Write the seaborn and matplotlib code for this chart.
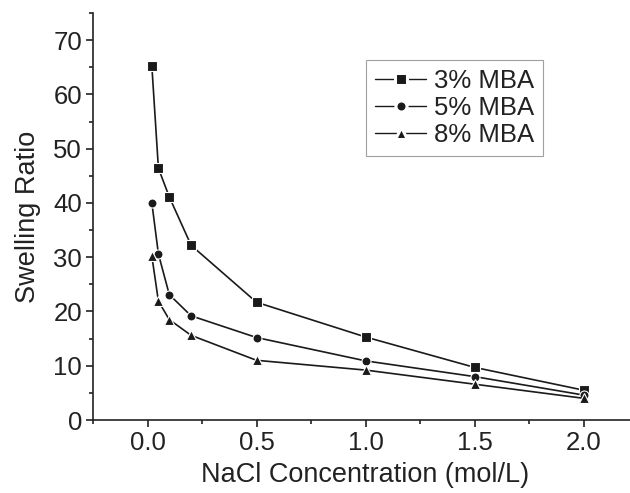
import matplotlib
matplotlib.use("Agg")
import matplotlib.pyplot as plt
from matplotlib.ticker import MultipleLocator
import seaborn as sns
import pandas as pd

conc = [0.02, 0.05, 0.1, 0.2, 0.5, 1.0, 1.5, 2.0]
mba3 = [65.2, 46.4, 41.1, 32.2, 21.7, 15.3, 9.7, 5.5]
mba5 = [40.0, 30.6, 23.1, 19.2, 15.2, 10.9, 8.0, 4.6]
mba8 = [30.2, 21.9, 18.5, 15.6, 11.0, 9.2, 6.6, 4.0]
series_names = ["3% MBA", "5% MBA", "8% MBA"]

df = pd.DataFrame({
    "conc": conc * 3,
    "ratio": mba3 + mba5 + mba8,
    "series": [series_names[0]] * len(conc) + [series_names[1]] * len(conc) + [series_names[2]] * len(conc),
})

sns.set_style("ticks")
plt.rcParams["font.family"] = ["Liberation Sans", "DejaVu Sans"]

fig = plt.figure(figsize=(6.3, 4.93), dpi=100)
ax = fig.add_axes([93 / 630, 1 - 420 / 493, (638 - 93) / 630, (420 - 13) / 493])

sns.lineplot(data=df, x="conc", y="ratio", style="series", markers=["s", "o", "^"],
             dashes=False, color="#1a1a1a", linewidth=1.2, markersize=6.5,
             markeredgecolor="white", markeredgewidth=0.8, ax=ax, legend=True)

ax.set_xlim(-0.25, 2.25)
ax.set_ylim(0, 75)
ax.xaxis.set_major_locator(MultipleLocator(0.5))
ax.xaxis.set_minor_locator(MultipleLocator(0.25))
ax.yaxis.set_major_locator(MultipleLocator(10))
ax.yaxis.set_minor_locator(MultipleLocator(5))
ax.xaxis.set_major_formatter(matplotlib.ticker.FormatStrFormatter("%.1f"))
ax.tick_params(which="major", direction="out", length=5, width=1.2, color="#222222",
               labelsize=18.5, labelcolor="#222222", pad=3)
ax.tick_params(which="minor", direction="out", length=3, width=1.2, color="#222222")
for s in ["top", "right"]:
    ax.spines[s].set_visible(False)
for s in ["left", "bottom"]:
    ax.spines[s].set_linewidth(1.2)
    ax.spines[s].set_color("#222222")

ax.set_xlabel("NaCl Concentration (mol/L)", fontsize=19.5, color="#222222", labelpad=5)
ax.set_ylabel("Swelling Ratio", fontsize=19.5, color="#222222", labelpad=9)

handles, labels = ax.get_legend_handles_labels()
leg = ax.legend(handles, labels, loc="upper left", bbox_to_anchor=((366 - 93) / 545, 1 - (60 - 13) / 407),
                frameon=True, fancybox=False, shadow=False, fontsize=18.5,
                handlelength=2.0, handletextpad=0.3, borderpad=0.35, labelspacing=0.12,
                borderaxespad=0)
leg.get_frame().set_edgecolor("#888888")
leg.get_frame().set_linewidth(0.8)
for h in leg.legend_handles:
    h.set_markersize(8)
    h.set_markeredgecolor("white")
    h.set_markeredgewidth(2.2)
    h.set_linewidth(1.0)
for t in leg.get_texts():
    t.set_color("#222222")

fig.savefig("out.png", dpi=100)
